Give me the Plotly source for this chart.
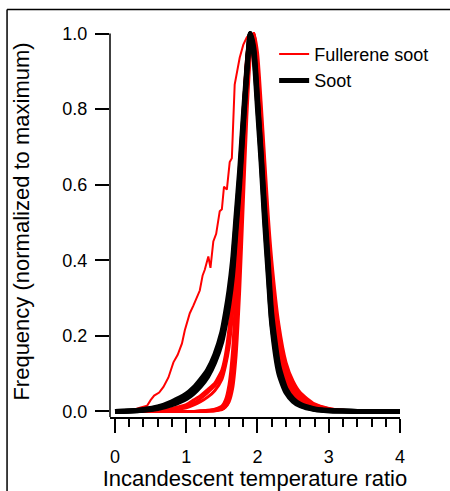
import plotly.graph_objects as go

# Shared bin centres (incandescent temperature ratio)
ratio = [0.0, 0.2, 0.4, 0.6, 0.8, 1.0, 1.1, 1.2, 1.3, 1.4, 1.5, 1.55, 1.6, 1.65, 1.7, 1.75,
         1.8, 1.85, 1.9, 1.95, 2.0, 2.05, 2.1, 2.15, 2.2, 2.3, 2.4, 2.5, 2.6, 2.8, 3.0, 3.2,
         3.4, 3.7, 4.0]

# Fullerene soot curves (normalized frequency)
full_n1 = [0,0,0,0,0,0,0,0,0.001,0.002,0.005,0.012,0.03,0.08,0.2,0.4,0.65,0.87,0.98,1.0,0.9,0.76,0.6,0.46,0.34,0.18,0.1,0.06,0.035,0.013,0.005,0.001,0,0,0]
full_n2 = [0,0,0,0,0,0,0,0.001,0.002,0.004,0.01,0.02,0.05,0.13,0.3,0.52,0.75,0.93,1.0,0.97,0.86,0.7,0.55,0.41,0.3,0.15,0.08,0.045,0.026,0.009,0.003,0.001,0,0,0]
full_n3 = [0,0,0,0,0,0,0,0,0.001,0.003,0.008,0.016,0.04,0.1,0.24,0.45,0.7,0.9,1.0,0.98,0.88,0.74,0.6,0.47,0.36,0.2,0.11,0.065,0.04,0.016,0.006,0.002,0.001,0,0]
full_n4 = [0,0,0,0,0,0,0,0.001,0.003,0.006,0.014,0.03,0.07,0.16,0.33,0.55,0.78,0.94,1.0,0.95,0.84,0.69,0.53,0.39,0.28,0.14,0.075,0.042,0.024,0.008,0.003,0.001,0,0,0]
full_n5 = [0,0,0,0,0,0,0,0,0.001,0.002,0.006,0.012,0.025,0.06,0.15,0.32,0.55,0.78,0.94,1.0,0.95,0.82,0.67,0.52,0.4,0.23,0.13,0.08,0.05,0.02,0.008,0.003,0.001,0,0]
full_n6 = [0,0,0,0,0,0,0,0.001,0.002,0.005,0.012,0.025,0.055,0.12,0.27,0.48,0.72,0.91,1.0,0.96,0.87,0.72,0.57,0.44,0.33,0.18,0.1,0.058,0.034,0.013,0.005,0.002,0,0,0]
full_m1 = [0,0,0,0.002,0.008,0.018,0.03,0.042,0.058,0.075,0.11,0.15,0.22,0.33,0.48,0.64,0.8,0.93,1.0,0.97,0.86,0.72,0.57,0.43,0.31,0.16,0.09,0.055,0.033,0.013,0.005,0.002,0,0,0]
full_m2 = [0,0,0,0.001,0.005,0.013,0.022,0.034,0.05,0.068,0.095,0.13,0.19,0.29,0.44,0.61,0.78,0.92,1.0,0.98,0.88,0.74,0.6,0.46,0.34,0.19,0.11,0.065,0.04,0.016,0.006,0.002,0.001,0,0]
full_m3 = [0,0,0,0.001,0.004,0.01,0.017,0.026,0.038,0.055,0.085,0.12,0.17,0.26,0.4,0.57,0.75,0.9,0.99,1.0,0.9,0.75,0.6,0.46,0.35,0.2,0.12,0.07,0.045,0.018,0.007,0.003,0.001,0,0]

# Outlier fullerene soot curve (broad left tail)
outlier_x = [0.0,0.2,0.25,0.35,0.45,0.5,0.55,0.62,0.68,0.75,0.82,0.88,0.94,0.98,1.05,1.1,1.15,1.19,1.23,1.26,1.31,1.34,1.38,1.42,1.47,1.5,1.53,1.57,1.61,1.64,1.68,1.75,1.8,1.85,1.9,1.95,2.0,2.05,2.1,2.15,2.2,2.3,2.4,2.5,2.6,2.8,3.0,3.2,3.5,4.0]
outlier_y = [0,0.002,0.004,0.01,0.015,0.03,0.042,0.05,0.065,0.09,0.13,0.15,0.18,0.215,0.26,0.28,0.3,0.32,0.36,0.375,0.41,0.38,0.45,0.47,0.53,0.535,0.595,0.587,0.66,0.67,0.865,0.936,0.97,0.99,1.0,0.96,0.86,0.72,0.58,0.44,0.32,0.17,0.09,0.05,0.03,0.012,0.004,0.001,0,0]

# Soot curves
soot_1 = [0,0.001,0.004,0.01,0.022,0.04,0.055,0.075,0.1,0.14,0.2,0.245,0.3,0.38,0.5,0.62,0.76,0.9,1.0,0.95,0.82,0.68,0.52,0.38,0.24,0.11,0.055,0.03,0.017,0.006,0.002,0.001,0,0,0]
soot_2 = [0,0.001,0.005,0.012,0.026,0.046,0.062,0.084,0.11,0.15,0.21,0.26,0.32,0.4,0.52,0.64,0.78,0.91,1.0,0.94,0.8,0.66,0.5,0.36,0.23,0.1,0.05,0.027,0.015,0.005,0.002,0.001,0,0,0]
soot_3 = [0,0.001,0.003,0.008,0.018,0.034,0.048,0.067,0.092,0.13,0.185,0.23,0.285,0.36,0.48,0.6,0.75,0.89,1.0,0.96,0.83,0.69,0.54,0.4,0.26,0.12,0.06,0.033,0.019,0.007,0.003,0.001,0,0,0]

x_ticks = [0, 1, 2, 3, 4]
y_ticks = [0.0, 0.2, 0.4, 0.6, 0.8, 1.0]
y_tick_text = ["0.0", "0.2", "0.4", "0.6", "0.8", "1.0"]

RED = "#ff0000"
FONT = "Liberation Sans, Arial, sans-serif"

fig = go.Figure()

fig.add_trace(go.Scatter(x=outlier_x, y=outlier_y, mode="lines", name="Fullerene soot",
                         line=dict(color=RED, width=2), legendgroup="f", showlegend=True))
for ys in [full_m1, full_m2, full_m3, full_n1, full_n2, full_n3, full_n4, full_n5, full_n6]:
    fig.add_trace(go.Scatter(x=ratio, y=ys, mode="lines", name="Fullerene soot",
                             line=dict(color=RED, width=3, shape="spline", smoothing=0.6),
                             legendgroup="f", showlegend=False))
for i, ys in enumerate([soot_1, soot_2, soot_3]):
    fig.add_trace(go.Scatter(x=ratio, y=ys, mode="lines", name="Soot",
                             line=dict(color="black", width=5, shape="spline", smoothing=0.6),
                             legendgroup="s", showlegend=(i == 0)))

y_lo, y_hi = -0.0146, 1.02
fig.update_layout(
    width=450, height=491,
    margin=dict(l=110, r=50, t=26, b=74),
    paper_bgcolor="white", plot_bgcolor="white",
    font=dict(family=FONT, size=18, color="black"),
    showlegend=True,
    legend=dict(x=0.566, y=0.975, xanchor="left", yanchor="top",
                bgcolor="rgba(0,0,0,0)", font=dict(size=18), tracegroupgap=0,
                itemsizing="trace"),
    xaxis=dict(range=[-0.07, 4.0], tickvals=x_ticks, ticks="outside", ticklen=14,
               tickwidth=1.5, tickcolor="black", showline=True, linecolor="black",
               linewidth=1.5, showgrid=False, zeroline=False, ticklabelstandoff=9,
               automargin=False,
               minor=dict(dtick=0.2, tick0=0, ticks="outside", ticklen=8, tickwidth=1.5,
                          tickcolor="black", showgrid=False),
               title=dict(text="Incandescent temperature ratio", standoff=12)),
    yaxis=dict(range=[y_lo, y_hi], tickvals=y_ticks, ticktext=y_tick_text, ticks="outside",
               ticklen=14, tickwidth=1.5, tickcolor="black", showline=False,
               showgrid=False, zeroline=False, ticklabelstandoff=4, automargin=False,
               title=dict(text="Frequency (normalized to maximum)", standoff=26)),
)

# y axis line ending at 1.0
fig.add_shape(type="line", xref="paper", yref="y", x0=0, x1=0, y0=y_lo, y1=1.0,
              line=dict(color="black", width=1.5))
# outer frame (cropped)
fig.add_shape(type="line", xref="paper", yref="paper", x0=-0.355, x1=-0.355, y0=1.042, y1=-0.3,
              line=dict(color="black", width=1.5))
fig.add_shape(type="line", xref="paper", yref="paper", x0=-0.355, x1=1.3, y0=1.042, y1=1.042,
              line=dict(color="black", width=1.5))

fig.write_html("out.html")
